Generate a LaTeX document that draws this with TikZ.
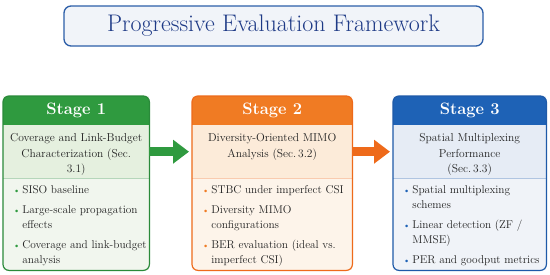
\documentclass[tikz,border=0pt]{standalone}
\usetikzlibrary{arrows.meta}
\definecolor{tb}{HTML}{2C5EA8}
\definecolor{tf}{HTML}{F1F4F9}
\definecolor{tt}{HTML}{1E3A86}
\definecolor{hd1}{HTML}{2F9A3F}\definecolor{ed1}{HTML}{2A8A3A}
\definecolor{bd1}{HTML}{F1F6EE}\definecolor{sb1}{HTML}{E5F0DF}
\definecolor{hd2}{HTML}{F07B23}\definecolor{ed2}{HTML}{EE6A1A}
\definecolor{bd2}{HTML}{FDF4EA}\definecolor{sb2}{HTML}{FCEBD9}
\definecolor{hd3}{HTML}{1E62B6}\definecolor{ed3}{HTML}{1E5AA8}
\definecolor{bd3}{HTML}{F0F3F8}\definecolor{sb3}{HTML}{E6ECF5}
\definecolor{txt}{HTML}{222222}
\newcommand{\bul}[1]{\textcolor{#1}{\small\textbullet}}
\begin{document}
\begin{tikzpicture}[x=1pt,y=-1pt,
  titlebox/.style={draw=tb,fill=tf,rounded corners=7pt,line width=1.3pt,minimum width=419pt,minimum height=40pt,text=tt,font=\fontsize{24}{26}\selectfont},
  stagebox/.style={minimum height=174pt,anchor=north west,inner sep=0pt},
  headbar/.style={minimum height=29pt,anchor=north west,inner sep=0pt,text=white,font=\fontsize{16.5}{18}\selectfont\bfseries},
  subbar/.style={minimum height=53pt,anchor=north west,inner sep=0pt},
  subtext/.style={anchor=north,align=center,inner sep=0pt,text=txt,font=\fontsize{11.5}{15.5}\selectfont},
  listtext/.style={anchor=north west,inner sep=0pt,text=txt,font=\fontsize{11.3}{15}\selectfont},
  bigarrow/.style={line width=9pt,-{Triangle[length=16pt,width=23pt]}}]
  \useasboundingbox[fill=white] (0,0) rectangle (550,274);
  \node[titlebox] (title) at (273.5,26) {Progressive Evaluation Framework};
  % the three stage boxes
  \foreach \n/\xa/\w in {1/3/146,2/192/160,3/393/153}{
    \node[stagebox,fill=bd\n,minimum width=\w pt] (s\n) at (\xa,96) {};
    \begin{scope}
      \clip[rounded corners=6pt] (s\n.north west) rectangle (s\n.south east);
      \node[headbar,fill=hd\n,minimum width=\w pt] (h\n) at (\xa,96) {Stage \n};
      \node[subbar,fill=sb\n,minimum width=\w pt] (t\n) at (\xa,125) {};
    \end{scope}
    \draw[ed\n!35,line width=.6pt] (t\n.south west) -- (t\n.south east);
    \draw[ed\n,rounded corners=6pt,line width=1.2pt] (s\n.north west) rectangle (s\n.south east);
  }
  \node[subtext] (d1) at ([yshift=-8.5pt]t1.north) {Coverage and Link-Budget\\Characterization (Sec.\\3.1)};
  \node[subtext] (d2) at ([yshift=-8.5pt]t2.north) {Diversity-Oriented MIMO\\Analysis (Sec.\,3.2)};
  \node[subtext] (d3) at ([yshift=-8.5pt]t3.north) {Spatial Multiplexing\\Performance\\(Sec.\,3.3)};
  \node[listtext] (l1) at (13,183) {\begin{tabular}{@{}l@{\hspace{2pt}}l@{}}
    \bul{hd1} & SISO baseline\\[5pt]
    \bul{hd1} & Large-scale propagation\\ & effects\\[5pt]
    \bul{hd1} & Coverage and link-budget\\ & analysis\end{tabular}};
  \node[listtext] (l2) at (202,183) {\begin{tabular}{@{}l@{\hspace{2pt}}l@{}}
    \bul{hd2} & STBC under imperfect CSI\\[5pt]
    \bul{hd2} & Diversity MIMO\\ & configurations\\[5pt]
    \bul{hd2} & BER evaluation (ideal vs.\\ & imperfect CSI)\end{tabular}};
  \node[listtext] (l3) at (403,183) {\begin{tabular}{@{}l@{\hspace{2pt}}l@{}}
    \bul{hd3} & Spatial multiplexing\\ & schemes\\[5pt]
    \bul{hd3} & Linear detection (ZF /\\ & MMSE)\\[5pt]
    \bul{hd3} & PER and goodput metrics\end{tabular}};
  \draw[bigarrow,hd1] (t1.east) -- ([xshift=-3pt]t2.west);
  \draw[bigarrow,ed2] (t2.east) -- ([xshift=-3pt]t3.west);
\end{tikzpicture}
\end{document}
